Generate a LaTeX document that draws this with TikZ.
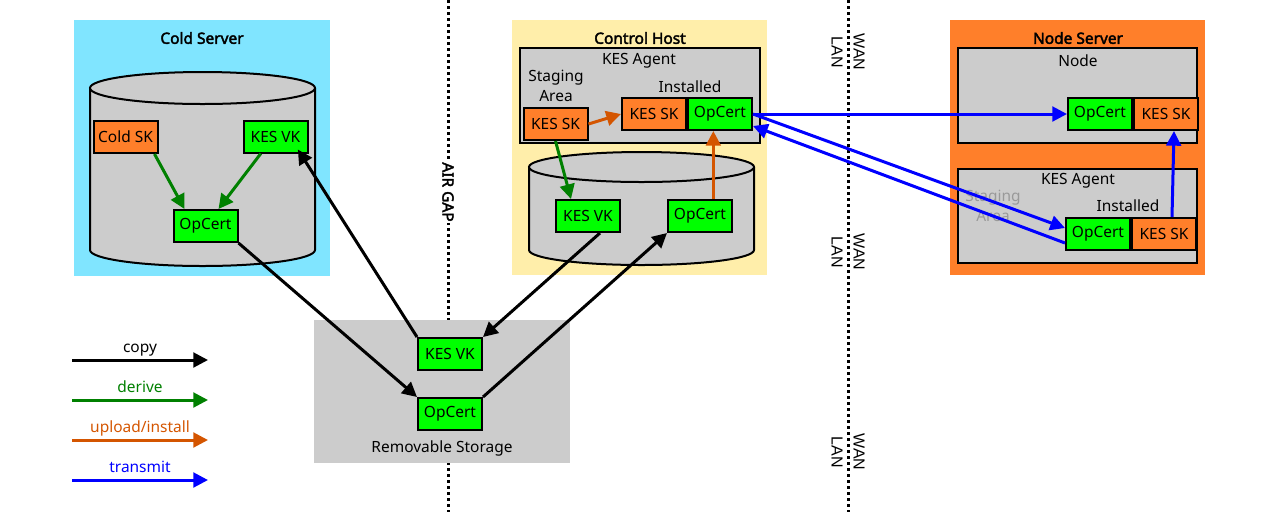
\documentclass[tikz,border=0pt]{standalone}
\usepackage{fontspec}
\setmainfont{Noto Sans}[AutoFakeBold=2.5]
\newfontfamily\lanfont{Liberation Sans}
\usetikzlibrary{arrows.meta}
\definecolor{coldbg}{HTML}{80E5FF}
\definecolor{hostbg}{HTML}{FFEEAA}
\definecolor{nodebg}{HTML}{FF7F2A}
\definecolor{boxgray}{HTML}{CCCCCC}
\definecolor{keygreen}{HTML}{00FF00}
\definecolor{keyorange}{HTML}{FF7F2A}
\definecolor{derivecol}{HTML}{008000}
\definecolor{uploadcol}{HTML}{D45500}
\definecolor{sendcol}{HTML}{0000FF}

\begin{document}
\begin{tikzpicture}[x=0.75pt,y=-0.75pt,
  font=\fontsize{11.6}{15}\selectfont,
  key/.style={draw=black,line width=1.5pt,minimum width=48pt,minimum height=24pt,inner sep=0pt},
  vkey/.style={key,fill=keygreen},
  skey/.style={key,fill=keyorange},
  area/.style={draw=black,line width=1.5pt,fill=boxgray},
  title/.style={font=\fontsize{11.6}{15}\selectfont\bfseries},
  gap/.style={line width=2.25pt,dash pattern=on 2.25pt off 2.25pt},
  lan/.style={font=\lanfont\fontsize{12}{14}\selectfont,rotate=-90,inner sep=0pt},
  arr/.style={line width=2.25pt,-{Triangle[length=11pt,width=11pt]}},
  copyarr/.style={arr,color=black},
  derivearr/.style={arr,color=derivecol},
  uploadarr/.style={arr,color=uploadcol},
  sendarr/.style={arr,color=sendcol}]
\useasboundingbox (0,0) rectangle (1280,512);

\fill[coldbg] (74,20) rectangle (330,276);
\fill[hostbg] (512,20) rectangle (767,275);
\fill[nodebg] (950,20) rectangle (1205,275);

\draw[gap] (448,0) -- (448,512);
\draw[gap] (848,0) -- (848,512);
\node[title,rotate=-90,fill=white,inner sep=1pt] (airgap) at (448,192) {AIR GAP};
\foreach \yy in {52,252,452}{
  \node[lan] (wan\yy) at (859,\yy) {WAN};
  \node[lan] (lan\yy) at (837,\yy) {LAN};
}

\fill[boxgray] (314,320) rectangle (570,463);

\node[title] (coldtitle) at (202,38) {Cold Server};
\node[title] (hosttitle) at (640,38) {Control Host};
\node[title] (nodetitle) at (1078,38) {Node Server};

% cylinders
\filldraw[area] (90,88) -- (90,250) arc[start angle=180,end angle=360,x radius=84.375pt,y radius=12pt] -- (315,88);
\filldraw[area] (202.5,88) ellipse[x radius=84.375pt,y radius=12pt];
\filldraw[area] (529,167) -- (529,250) arc[start angle=180,end angle=360,x radius=84.375pt,y radius=11.25pt] -- (754,167);
\filldraw[area] (641.5,167) ellipse[x radius=84.375pt,y radius=11.25pt];

\filldraw[area] (520,48) rectangle (760,143);
\filldraw[area] (958,48) rectangle (1197,143);
\filldraw[area] (958,169) rectangle (1197,263);

\node (hostagent) at (639,61) {KES Agent};
\node[align=center] (hoststage) at (556,86) {Staging\\Area};
\node (hostinst) at (690,87) {Installed};
\node (nodelabel) at (1078,61) {Node};
\node (nodeagent) at (1078,181) {KES Agent};
\node[align=center,text=black!40] (nodestage) at (993,206) {Staging\\Area};
\node (nodeinst) at (1128,206) {Installed};
\node (rslabel) at (442,448) {Removable Storage};

\node[skey] (coldsk) at (125.5,137) {Cold SK};
\node[vkey] (coldvk) at (275.5,136.5) {KES VK};
\node[vkey] (coldop) at (205.5,226) {OpCert};

\node[skey] (stsk) at (555.5,124) {KES SK};
\node[skey] (insk) at (654,114) {KES SK};
\node[vkey,anchor=west] (inop) at (insk.east) {OpCert};
\node[vkey] (ctvk) at (588,216) {KES VK};
\node[vkey] (ctop) at (700,216) {OpCert};

\node[vkey] (nop) at (1100,114) {OpCert};
\node[skey,anchor=west] (nsk) at (nop.east) {KES SK};
\node[vkey] (aop) at (1098,234) {OpCert};
\node[skey,anchor=west] (ask) at (aop.east) {KES SK};

\node[vkey] (rsvk) at (450,354) {KES VK};
\node[vkey] (rsop) at (450,414) {OpCert};

\draw[derivearr] ([xshift=-3pt]coldsk.south east) -- ([xshift=9pt]coldop.north west);
\draw[derivearr] ([xshift=-11pt]coldvk.south) -- ([xshift=-15pt]coldop.north east);
\draw[derivearr] (stsk.south) -- ([xshift=12pt]ctvk.north west);

\draw[uploadarr] (stsk.east) -- (insk.west);
\draw[uploadarr] ([xshift=10pt]ctop.north) -- ([xshift=10pt]ctop.north |- inop.south);

\draw[copyarr] (coldop.south east) -- (rsop.north west);
\draw[copyarr] (rsvk.north west) -- ([xshift=-8pt,yshift=3pt]coldvk.south east);
\draw[copyarr] ([xshift=9pt]ctvk.south) -- (rsvk.north east);
\draw[copyarr] (rsop.north east) -- (ctop.south west);

\draw[sendarr] (inop.east) -- (nop.west);
\draw[sendarr] (inop.east) -- ([yshift=4.5pt]aop.west);
\draw[sendarr] ([yshift=-6.75pt]aop.west) -- ([yshift=-9pt]inop.east);
\draw[sendarr] ([xshift=6pt]ask.north) -- ([xshift=6pt]nsk.south);

\foreach \yy/\st/\tx in {360/copyarr/copy,400/derivearr/derive,440/uploadarr/{upload/install},480/sendarr/transmit}{
  \coordinate (lfrom\yy) at (72,\yy);
  \coordinate (lto\yy) at (208,\yy);
  \draw[\st] (lfrom\yy) -- node[anchor=base,yshift=6pt,inner sep=0pt] (lab\yy) {\tx} (lto\yy);
}
\end{tikzpicture}
\end{document}
